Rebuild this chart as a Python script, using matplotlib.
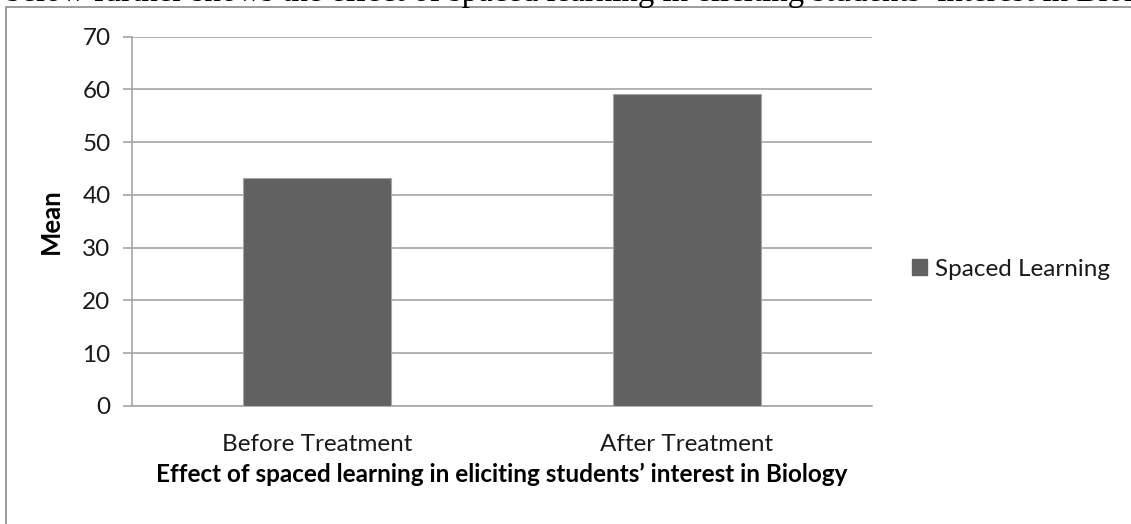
import matplotlib
matplotlib.use("Agg")
import matplotlib.pyplot as plt
from matplotlib.patches import Rectangle, Patch

categories = ["Before Treatment", "After Treatment"]
values = [43.2, 59.1]
series_name = "Spaced Learning"
yticks = [0, 10, 20, 30, 40, 50, 60, 70]
xlabel = "Effect of spaced learning in eliciting students\u2019 interest in Biology"
ylabel = "Mean"
top_text = "below further shows the effect of spaced learning in eliciting students\u2019 interest in Biology"

W, H = 1131, 524
fig = plt.figure(figsize=(W / 100, H / 100), dpi=100)
fig.patch.set_facecolor("white")

font = ["Lato", "DejaVu Sans"]
FS = 17.5

# cropped text above the chart frame
fig.text(5 / W, 1 - 1.0 / H, top_text, ha="left", va="baseline",
         fontsize=23.7, family=["Liberation Serif", "DejaVu Serif"], color="black")

# chart frame (only top and left edges visible)
fig.add_artist(Rectangle((6 / W, -0.5), 2.0, 1 - 7.5 / H + 0.5,
                         transform=fig.transFigure, fill=False,
                         edgecolor="#8c8c8c", linewidth=1.2))

ax = fig.add_axes([132 / W, 1 - 406 / H, (872 - 132) / W, (406 - 36.7) / H])
x = list(range(len(categories)))
ax.bar(x, values, width=0.4, color="#616161", edgecolor="#a6a6a6",
       linewidth=0.8, zorder=3, label=series_name)
ax.set_xlim(-0.5, 1.5)
ax.set_ylim(0, 70)
ax.set_yticks(yticks)
ax.set_xticks(x)
ax.set_xticklabels(categories, fontsize=FS, family=font, color="#1a1a1a")
ax.set_yticklabels([str(t) for t in yticks], fontsize=FS, family=font, color="#1a1a1a")
ax.yaxis.grid(True, color="#a6a6a6", linewidth=1.2, zorder=0)
ax.set_axisbelow(True)
for s in ["top", "right"]:
    ax.spines[s].set_visible(False)
ax.spines["left"].set_color("#a6a6a6")
ax.spines["bottom"].set_color("#a6a6a6")
ax.spines["left"].set_linewidth(1.2)
ax.spines["bottom"].set_linewidth(1.2)
ax.tick_params(axis="y", length=6.5, color="#a6a6a6", width=1.2, pad=9)
ax.tick_params(axis="x", length=0, pad=20)
ax.set_xlabel(xlabel, fontsize=FS, fontweight="bold", family=font, labelpad=6)
ax.set_ylabel(ylabel, fontsize=18.5, fontweight="bold", family=font, labelpad=14)

leg = fig.legend(handles=[Patch(facecolor="#616161", edgecolor="#616161", label=series_name)],
                 loc="center left", bbox_to_anchor=(890 / W, 1 - 269 / H),
                 frameon=False, prop={"family": font, "size": FS},
                 handlelength=0.62, handleheight=0.62, handletextpad=0.35)
for t in leg.get_texts():
    t.set_color("#1a1a1a")

fig.savefig("out.png", dpi=100, facecolor="white")
